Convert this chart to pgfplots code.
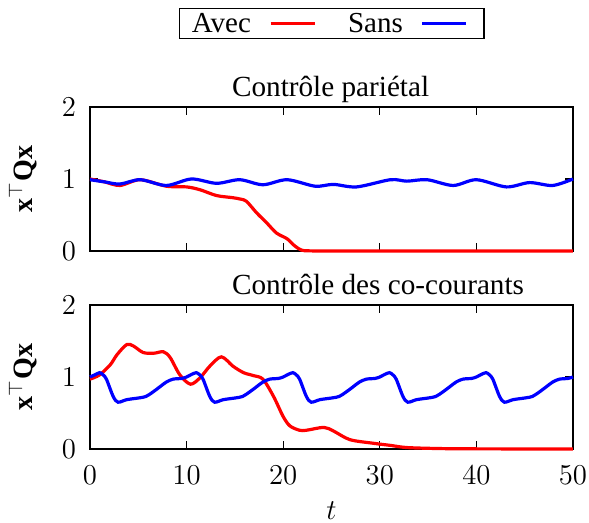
\documentclass[border=0pt]{standalone}
\usepackage{fontspec}
\setmainfont{Liberation Serif}
\usepackage{pgfplots}
\pgfplotsset{compat=1.18}
\begin{document}
\begin{tikzpicture}
\useasboundingbox (0,0) rectangle (294.5pt,261.5pt);
\pgfplotsset{
  myaxis/.style={
    scale only axis, width=241.5pt, height=72pt,
    xmin=0, xmax=50, ymin=0, ymax=2,
    xtick={0,10,...,50}, ytick={0,1,2},
    tick align=inside, major tick length=3.8pt,
    axis line style={line width=0.7pt}, every tick/.style={black, line width=0.6pt},
    tick label style={font=\fontsize{14}{16}\selectfont},
    yticklabel style={xshift=-3.5pt},
    xticklabel style={yshift=-4.8pt},
    clip=false,
    every axis title shift=0pt,
    title style={at={(axis description cs:0.2934,1)}, anchor=base west, yshift=5pt, inner sep=0pt, font=\fontsize{14.6}{17}\selectfont},
    every axis y label/.style={at={(axis description cs:-0.108,0.5)}, rotate=90, anchor=south, inner sep=0pt, font=\fontsize{14}{16}\selectfont},
    ylabel={$\mathbf{x}^{\top}\mathbf{Q}\mathbf{x}$},
  },
  avec/.style={red, line width=1.6pt, smooth},
  sans/.style={blue, line width=1.6pt, smooth},
}
\begin{axis}[myaxis, at={(45pt,136pt)}, anchor=south west,
  xticklabels={},
  title={Contrôle pariétal},
  legend columns=2,
  legend plot pos=right,
  legend image code/.code={\draw[#1] (0,0) -- (22pt,0); \path (24pt,0);},
  legend style={at={(axis description cs:0.501,1.58)}, anchor=center, draw=black, line width=0.6pt,
    inner xsep=6pt, inner ysep=0pt,
    nodes={inner sep=0pt, text height=12pt, text depth=2.85pt, font=\fontsize{14.5}{17}\selectfont},
    /tikz/every odd column/.append style={column sep=9pt},
    /tikz/every even column/.append style={column sep=14pt}},
]
\addplot[avec] coordinates {(0,1.0) (1.5,0.96) (3.1,0.91) (5.2,0.99) (7.9,0.90) (10,0.89) (11.4,0.85) (13.1,0.77) (14.8,0.74) (15.6,0.72) (16.2,0.69) (17.25,0.53) (18.3,0.39) (19.3,0.25) (20.4,0.17) (21.2,0.07) (21.9,0.012) (22.7,0.002) (25,0) (30,0) (40,0) (50,0)};
\addlegendentry{Avec}
\addplot[sans] coordinates {(0,0.99) (1.5,0.96) (3.1,0.93) (5.2,0.99) (7.9,0.91) (10.5,1.0) (13.1,0.94) (15.5,0.99) (17.9,0.92) (20.4,0.99) (23.3,0.90) (25.2,0.925) (27.6,0.89) (31.1,0.99) (32.8,0.97) (34.9,0.99) (37.6,0.91) (40.0,0.99) (43.1,0.89) (45.5,0.95) (47.9,0.91) (50,1.0)};
\addlegendentry{Sans}
\end{axis}
\begin{axis}[myaxis, at={(45pt,37pt)}, anchor=south west,
  title={Contrôle des co-courants},
  xlabel={$t$},
  xlabel style={at={(axis description cs:0.5,-0.493)}, anchor=base, inner sep=0pt, font=\fontsize{14}{16}\selectfont},
]
\addplot[avec] coordinates {(0,0.97) (1.0,1.03) (2.1,1.17) (2.8,1.31) (3.8,1.45) (4.5,1.43) (5.5,1.34) (6.6,1.33) (7.6,1.35) (8.3,1.27) (9.3,1.03) (10.4,0.90) (11.4,0.99) (12.4,1.15) (13.6,1.28) (14.8,1.15) (15.9,1.06) (16.9,1.02) (17.9,0.97) (19.0,0.73) (20.0,0.45) (20.7,0.32) (21.7,0.26) (22.4,0.26) (24.2,0.30) (25.2,0.25) (26.9,0.13) (29.3,0.08) (31.1,0.05) (32.8,0.02) (36.2,0.006) (40,0.002) (50,0)};
\addplot[sans] coordinates {(0,1.0) (0.5,1.03) (1,1.06) (1.35,1.03) (1.7,0.97) (2.4,0.73) (2.9,0.65) (3.8,0.685) (5.1,0.71) (5.8,0.73) (6.5,0.79) (7.2,0.86) (7.9,0.93) (8.6,0.97) (9.5,0.98) (10,1.0) (10.5,1.035) (11,1.06)
(11.35,1.03) (11.7,0.97) (12.4,0.73) (12.9,0.65) (13.8,0.685) (15.1,0.71) (15.8,0.73) (16.5,0.79) (17.2,0.86) (17.9,0.93) (18.6,0.97) (19.5,0.98) (20,1.0) (20.5,1.035) (21,1.06)
(21.35,1.03) (21.7,0.97) (22.4,0.73) (22.9,0.65) (23.8,0.685) (25.1,0.71) (25.8,0.73) (26.5,0.79) (27.2,0.86) (27.9,0.93) (28.6,0.97) (29.5,0.98) (30,1.0) (30.5,1.035) (31,1.06)
(31.35,1.03) (31.7,0.97) (32.4,0.73) (32.9,0.65) (33.8,0.685) (35.1,0.71) (35.8,0.73) (36.5,0.79) (37.2,0.86) (37.9,0.93) (38.6,0.97) (39.5,0.98) (40,1.0) (40.5,1.035) (41,1.06)
(41.35,1.03) (41.7,0.97) (42.4,0.73) (42.9,0.65) (43.8,0.685) (45.1,0.71) (45.8,0.73) (46.5,0.79) (47.2,0.86) (47.9,0.93) (48.6,0.97) (49.5,0.98) (50,1.0)};
\end{axis}
\end{tikzpicture}
\end{document}
